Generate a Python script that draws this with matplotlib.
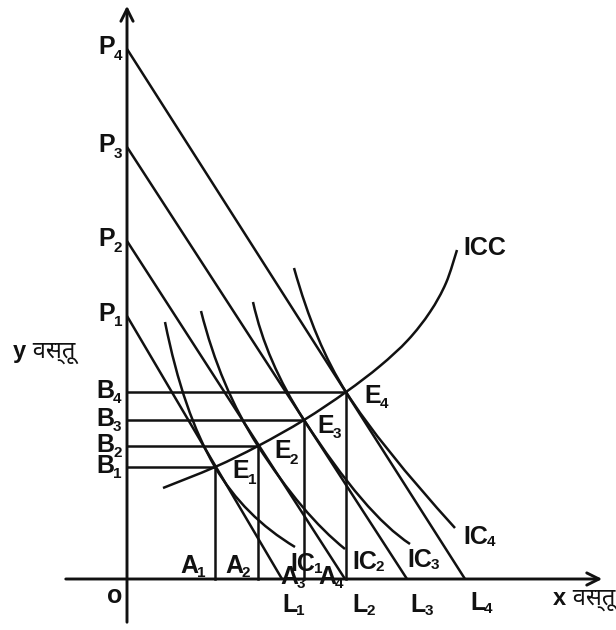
import numpy as np
import matplotlib
matplotlib.use("Agg")
import matplotlib.pyplot as plt
from matplotlib.path import Path
from matplotlib.patches import PathPatch

# values measured along the axes, origin at O
price_int = [263, 338, 432, 530]      # P1..P4 on the y axis
qty_int = [155, 218, 280, 338]        # L1..L4 on the x axis
eq_x = [88, 131, 177, 219]            # A1..A4
eq_y = [112, 133, 159, 187]           # B1..B4
icc_x = [36, 88, 131, 177, 219, 253, 281, 303, 319, 330]
icc_y = [91, 112, 133, 159, 187, 213, 239, 267, 296, 329]
ic_top = [(38, 257), (74, 268), (126, 277), (167, 311)]
ic_end = [(168, 32), (218, 30), (283, 35), (328, 51)]
ic_top_lean = [0.2, 0.25, 0.22, 0.28]   # dx/dy at the upper end
ic_end_slope = [0.6, 0.8, 0.65, 1.1]    # dy/dx at the lower end

fam = ["Liberation Sans", "Noto Sans Devanagari", "DejaVu Sans"]
LW = 1.8
INK = "#111111"

fig = plt.figure(figsize=(6.16, 6.30), dpi=100)
ax = fig.add_axes([0, 0, 1, 1])
ax.set_xlim(-127, 489)
ax.set_ylim(-51, 579)
ax.axis("off")

# axes with open arrow heads
ax.annotate("", xy=(0, 576), xytext=(0, -46),
            arrowprops=dict(arrowstyle="->", lw=LW + 0.3, color=INK, mutation_scale=22))
ax.annotate("", xy=(478, 0), xytext=(-64, 0),
            arrowprops=dict(arrowstyle="->", lw=LW + 0.3, color=INK, mutation_scale=22))

# budget lines
for p, l in zip(price_int, qty_int):
    ax.plot([0, l], [p, 0], color=INK, lw=LW, solid_capstyle="butt")

# guide lines to the equilibrium points
for a, b in zip(eq_x, eq_y):
    ax.plot([0, a], [b, b], color=INK, lw=LW)
    ax.plot([a, a], [0, b], color=INK, lw=LW)


def meet(p, d, q, e):
    A = np.array([[d[0], -e[0]], [d[1], -e[1]]])
    s, _ = np.linalg.solve(A, np.subtract(q, p))
    return (p[0] + s * d[0], p[1] + s * d[1])


# indifference curves, tangent to the budget line at E
for i in range(4):
    E = (eq_x[i], eq_y[i])
    bud = (1.0, -price_int[i] / qty_int[i])
    c1 = meet(ic_top[i], (ic_top_lean[i], -1.0), E, bud)
    c2 = meet(ic_end[i], (-1.0, ic_end_slope[i]), E, bud)
    path = Path([ic_top[i], c1, E, c2, ic_end[i]],
                [Path.MOVETO, Path.CURVE3, Path.CURVE3, Path.CURVE3, Path.CURVE3])
    ax.add_patch(PathPatch(path, fill=False, lw=LW, edgecolor=INK, capstyle="butt"))


def smooth_path(xs, ys):
    pts = np.column_stack([xs, ys]).astype(float)
    verts = [pts[0]]
    codes = [Path.MOVETO]
    for i in range(len(pts) - 1):
        p0 = pts[i - 1] if i > 0 else pts[i]
        p1, p2 = pts[i], pts[i + 1]
        p3 = pts[i + 2] if i + 2 < len(pts) else pts[i + 1]
        verts += [p1 + (p2 - p0) / 6, p2 - (p3 - p1) / 6, p2]
        codes += [Path.CURVE4] * 3
    return Path(verts, codes)


ax.add_patch(PathPatch(smooth_path(icc_x, icc_y), fill=False, lw=LW, edgecolor=INK))

renderer = fig.canvas.get_renderer()


def label(x, y, main, sub=None, drop=7, size=18):
    t = ax.text(x, y, main, fontsize=size, fontweight="bold", ha="left", va="center",
                family=fam, color=INK)
    if sub:
        bb = t.get_window_extent(renderer)
        x1 = ax.transData.inverted().transform((bb.x1, bb.y0))[0]
        ax.text(x1 - 1, y - drop, sub, fontsize=11, fontweight="bold", ha="left",
                va="center", family=fam, color=INK)


for i, p in enumerate(price_int):
    label(-29, p + 2, "P", str(i + 1), drop=8.5)
for i, b in enumerate(eq_y):
    label(-31, b + 1, "B", str(i + 1), drop=8)

e_pos = [(105, 107.5), (147, 128), (190, 153), (237, 183)]
a_pos = [(53, 13), (98, 13), (153, 1.5), (191, 1.5)]
ic_pos = [(163, 15), (225, 17), (280, 19), (336, 41.5)]
l_pos = [(155, -26), (225, -26), (283, -26), (343, -24)]
for i in range(4):
    label(e_pos[i][0], e_pos[i][1], "E", str(i + 1), drop=8.5)
    label(a_pos[i][0], a_pos[i][1], "A", str(i + 1), drop=7)
    label(ic_pos[i][0], ic_pos[i][1], "IC", str(i + 1), drop=5)
    label(l_pos[i][0], l_pos[i][1], "L", str(i + 1), drop=6)

label(336, 331, "ICC")
label(-20, -17, "o")
ax.text(-114, 221, "y वस्तू", fontsize=17, fontweight="bold", ha="left", va="baseline",
        family=fam, color=INK)
ax.text(426, -26, "x वस्तू", fontsize=17, fontweight="bold", ha="left", va="baseline",
        family=fam, color=INK)

fig.savefig("out.png", dpi=100)
